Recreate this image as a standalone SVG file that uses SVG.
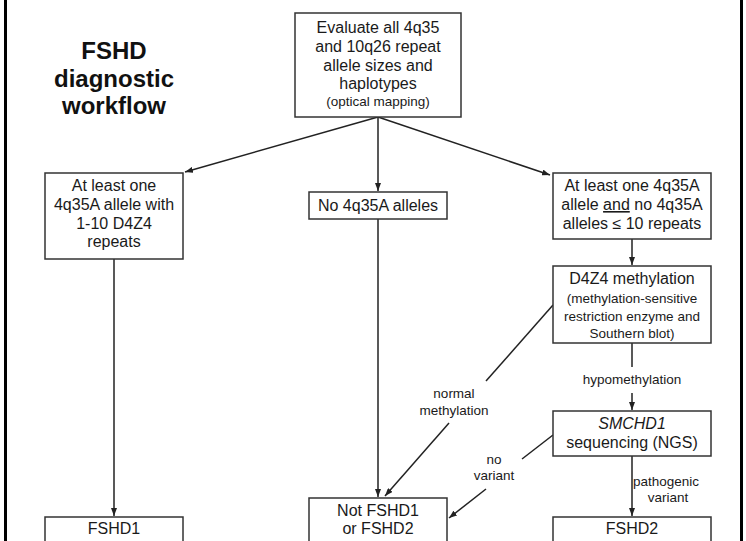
<svg xmlns="http://www.w3.org/2000/svg" width="746" height="541" viewBox="0 0 746 541">
<style>
  .box { fill: #fff; stroke: #333; stroke-width: 1.5; }
  .t { font-family: "Liberation Sans", Arial, Helvetica, sans-serif; font-size: 16px; fill: #1a1a1a; text-anchor: middle; }
  .s { font-family: "Liberation Sans", Arial, Helvetica, sans-serif; font-size: 13.5px; fill: #1a1a1a; text-anchor: middle; }
  .title { font-family: "Liberation Sans", Arial, Helvetica, sans-serif; font-size: 24px; font-weight: bold; fill: #111; text-anchor: middle; }
  .c { stroke: #222; stroke-width: 1.5; fill: none; }
  .bar { fill: #000; }
</style>
<defs>
  <marker id="ah" markerUnits="userSpaceOnUse" markerWidth="8" markerHeight="6" refX="8" refY="3" orient="auto">
    <path d="M0,0 L8,3 L0,6 z" fill="#222"/>
  </marker>
</defs>
<rect width="746" height="541" fill="#fff"/>
<rect class="bar" x="4" y="0" width="3" height="541"/>
<rect class="bar" x="740" y="0" width="3" height="541"/>

<g id="title">
  <text class="title" x="114" y="59">FSHD</text>
  <text class="title" x="114" y="87">diagnostic</text>
  <text class="title" x="114" y="114">workflow</text>
</g>

<g id="connectors">
  <line class="c" x1="378" y1="117" x2="185" y2="172" marker-end="url(#ah)"/>
  <line class="c" x1="378" y1="117" x2="378" y2="191" marker-end="url(#ah)"/>
  <line class="c" x1="378" y1="117" x2="550" y2="175" marker-end="url(#ah)"/>
  <line class="c" x1="114" y1="259" x2="114" y2="516" marker-end="url(#ah)"/>
  <line class="c" x1="378" y1="219" x2="378" y2="497" marker-end="url(#ah)"/>
  <line class="c" x1="632" y1="239" x2="632" y2="265" marker-end="url(#ah)"/>
  <line class="c" x1="632" y1="343" x2="632" y2="367"/>
  <line class="c" x1="632" y1="393" x2="632" y2="410" marker-end="url(#ah)"/>
  <line class="c" x1="553" y1="305" x2="486" y2="381"/>
  <line class="c" x1="449" y1="423" x2="385" y2="496" marker-end="url(#ah)"/>
  <line class="c" x1="553" y1="435" x2="522" y2="459"/>
  <line class="c" x1="486" y1="489" x2="449" y2="518" marker-end="url(#ah)"/>
  <line class="c" x1="632" y1="456" x2="632" y2="516" marker-end="url(#ah)"/>
  <text class="s" x="632" y="384">hypomethylation</text>
  <text class="s" x="454" y="398">normal</text>
  <text class="s" x="454" y="415">methylation</text>
  <text class="s" x="494" y="464">no</text>
  <text class="s" x="494" y="480">variant</text>
  <text class="s" x="666" y="486">pathogenic</text>
  <text class="s" x="668" y="502">variant</text>
</g>

<g id="evaluate">
  <rect class="box" x="295" y="13" width="166" height="104"/>
  <text class="t" x="378" y="33">Evaluate all 4q35</text>
  <text class="t" x="378" y="52">and 10q26 repeat</text>
  <text class="t" x="378" y="71">allele sizes and</text>
  <text class="t" x="378" y="89">haplotypes</text>
  <text class="s" x="378" y="106">(optical mapping)</text>
</g>

<g id="atleast-short">
  <rect class="box" x="45" y="173" width="138" height="86"/>
  <text class="t" x="114" y="191">At least one</text>
  <text class="t" x="114" y="210">4q35A allele with</text>
  <text class="t" x="114" y="229">1-10 D4Z4</text>
  <text class="t" x="114" y="247">repeats</text>
</g>

<g id="no4q35a">
  <rect class="box" x="309" y="192" width="138" height="27"/>
  <text class="t" x="378" y="211">No 4q35A alleles</text>
</g>

<g id="atleast-long">
  <rect class="box" x="553" y="173" width="158" height="66"/>
  <text class="t" x="632" y="191">At least one 4q35A</text>
  <text class="t" x="632" y="210">allele <tspan text-decoration="underline">and</tspan> no 4q35A</text>
  <text class="t" x="632" y="229">alleles ≤ 10 repeats</text>
</g>

<g id="methylation">
  <rect class="box" x="553" y="266" width="158" height="77"/>
  <text class="t" x="632" y="284">D4Z4 methylation</text>
  <text class="s" x="632" y="303">(methylation-sensitive</text>
  <text class="s" x="632" y="321">restriction enzyme and</text>
  <text class="s" x="632" y="338">Southern blot)</text>
</g>

<g id="smchd1">
  <rect class="box" x="553" y="411" width="158" height="45"/>
  <text class="t" x="632" y="429" font-style="italic">SMCHD1</text>
  <text class="t" x="632" y="448">sequencing (NGS)</text>
</g>

<g id="fshd1">
  <rect class="box" x="45" y="517" width="138" height="40"/>
  <text class="t" x="114" y="534">FSHD1</text>
</g>

<g id="notfshd">
  <rect class="box" x="309" y="498" width="138" height="60"/>
  <text class="t" x="378" y="516">Not FSHD1</text>
  <text class="t" x="378" y="534">or FSHD2</text>
</g>

<g id="fshd2">
  <rect class="box" x="553" y="517" width="158" height="40"/>
  <text class="t" x="632" y="534">FSHD2</text>
</g>
</svg>
